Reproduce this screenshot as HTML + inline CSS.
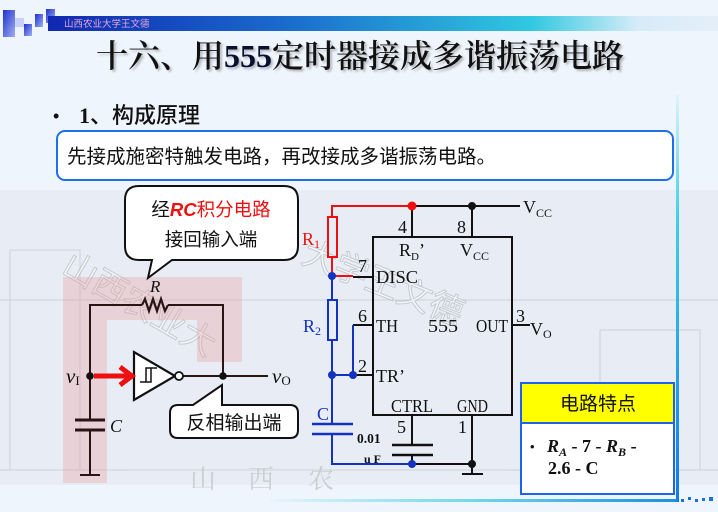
<!DOCTYPE html>
<html>
<head>
<meta charset="utf-8">
<style>
  html,body{margin:0;padding:0;}
  body{width:718px;height:512px;overflow:hidden;background:#eff5fc;}
  svg{display:block;}
</style>
</head>
<body>
<svg width="718" height="512" viewBox="0 0 718 512" xmlns="http://www.w3.org/2000/svg">
  <defs>
    <linearGradient id="hbar" x1="0" y1="0" x2="1" y2="0">
      <stop offset="0" stop-color="#1028b0"/>
      <stop offset="0.35" stop-color="#1a6acc"/>
      <stop offset="0.72" stop-color="#30c8e0"/>
      <stop offset="0.88" stop-color="#d6ecf8"/>
      <stop offset="1" stop-color="#e4eef9"/>
    </linearGradient>
    <linearGradient id="sq" x1="0" y1="0" x2="1" y2="1">
      <stop offset="0" stop-color="#2030d0"/>
      <stop offset="1" stop-color="#9fb0f0"/>
    </linearGradient>
    <linearGradient id="vline" x1="0" y1="0" x2="0" y2="1">
      <stop offset="0" stop-color="#e0f2fa"/>
      <stop offset="0.3" stop-color="#40d0e4"/>
      <stop offset="1" stop-color="#1478e4"/>
    </linearGradient>
    <linearGradient id="hline" x1="0" y1="0" x2="1" y2="0">
      <stop offset="0" stop-color="#e8f4fb"/>
      <stop offset="0.5" stop-color="#70d8ea"/>
      <stop offset="1" stop-color="#1a90e0"/>
    </linearGradient>
  </defs>

  <!-- faint background watermark area -->
  <rect x="0" y="190" width="718" height="295" fill="#8a8f96" opacity="0.07"/>
  <g fill="none" stroke="#9aa0a8" stroke-width="1" opacity="0.35">
    <rect x="10" y="250" width="70" height="220"/>
    <rect x="600" y="330" width="100" height="140"/>
    <path d="M0,300 H718 M0,470 H718"/>
  </g>
  <g font-family="'Noto Sans CJK SC', sans-serif" font-size="34" fill="#ffffff" stroke="#a8adb4" stroke-width="1" opacity="0.55">
    <text x="300" y="262" transform="rotate(22 300 262)">大学王文德</text>
    <text x="60" y="272" transform="rotate(30 60 272)">山西农业大</text>
  </g>
  <g font-family="'Noto Serif CJK SC', serif" font-size="26" fill="#c4c8cc" opacity="0.8">
    <text x="190" y="488">山</text>
    <text x="248" y="488">西</text>
    <text x="308" y="488">农</text>
  </g>

  <!-- pink highlight frame -->
  <path d="M63,277 H242 V362 H197 V320 H107 V483 H63 Z" fill="#e89898" opacity="0.32"/>

  <!-- header logo squares -->
  <rect x="3" y="10" width="12" height="27" fill="url(#sq)"/>
  <rect x="15" y="18" width="9" height="9" fill="#c8d2f6"/>
  <rect x="24" y="24" width="8" height="12" fill="url(#sq)"/>
  <rect x="35" y="14" width="8" height="13" fill="url(#sq)"/>
  <rect x="46" y="9" width="9" height="14" fill="url(#sq)"/>
  <!-- header bar -->
  <rect x="48" y="16" width="670" height="15" fill="url(#hbar)"/>
  <text x="64" y="27" font-family="'Noto Sans CJK SC', sans-serif" font-size="9.5" fill="#e6a6d8">山西农业大学王文德</text>

  <!-- title -->
  <g font-size="32" style="text-shadow:2px 2px 2px rgba(0,0,0,0.25)">
    <text x="96" y="67" fill="#111"><tspan font-family="'Noto Serif CJK SC', serif" font-weight="600">十六、用</tspan><tspan font-family="'Liberation Serif', serif" font-weight="bold" fill="#0a1030">555</tspan><tspan font-family="'Noto Serif CJK SC', serif" font-weight="600">定时器接成多谐振荡电路</tspan></text>
  </g>

  <!-- bullet heading -->
  <text x="53" y="122" font-family="'Liberation Sans', sans-serif" font-size="18" fill="#111">•</text>
  <text x="79" y="123" font-size="22" fill="#111"><tspan font-family="'Liberation Serif', serif" font-weight="bold">1</tspan><tspan font-family="'Noto Sans CJK SC', sans-serif" font-weight="500">、构成原理</tspan></text>

  <!-- text box -->
  <rect x="57" y="131" width="616" height="49" rx="8" ry="8" fill="#ffffff" stroke="#1e6ef0" stroke-width="2"/>
  <text x="67" y="163" font-family="'Noto Sans CJK SC', sans-serif" font-size="19.5" fill="#111">先接成施密特触发电路，再改接成多谐振荡电路。</text>

  <!-- right vertical accent line & bottom line -->
  <rect x="676" y="95" width="3" height="407" fill="url(#vline)"/>
  <rect x="270" y="499" width="407" height="3" fill="url(#hline)"/>
  <g fill="#1a70e0">
    <rect x="681" y="499" width="3" height="3"/><rect x="688" y="497" width="3" height="3"/>
    <rect x="695" y="499" width="3" height="3"/><rect x="702" y="498" width="3" height="3"/>
    <rect x="709" y="497" width="4" height="4"/>
  </g>

  <!-- ================= LEFT CIRCUIT ================= -->
  <g stroke="#2a1414" stroke-width="2" fill="none">
    <!-- feedback loop -->
    <path d="M90,420 V305 H142 M168,305 H223 V376"/>
    <path d="M142,305 L145,299 L149,311 L153,299 L157,311 L161,299 L165,311 L168,305" stroke-width="2.2"/>
    <!-- output line -->
    <path d="M183,376 H268"/>
    <!-- capacitor -->
    <path d="M75,420 H105 M75,430 H105" stroke-width="3"/>
    <path d="M90,430 V475 M80,475 H100"/>
  </g>
  <!-- Schmitt inverter -->
  <polygon points="134,352 134,400 175,376" fill="#ffffff" stroke="#111" stroke-width="2.2"/>
  <circle cx="179" cy="376" r="4" fill="#ffffff" stroke="#111" stroke-width="1.8"/>
  <path d="M140,382 H151 V368 M146,382 V368 H157" fill="none" stroke="#111" stroke-width="1.5"/>
  <!-- red arrow -->
  <path d="M94,376 H128" stroke="#ee1010" stroke-width="5" fill="none"/>
  <path d="M120,367 L132,376 L120,385" stroke="#ee1010" stroke-width="5" fill="none" stroke-linejoin="miter"/>
  <!-- dots -->
  <circle cx="90" cy="376" r="3.8" fill="#111"/>
  <circle cx="223" cy="376" r="3.8" fill="#111"/>
  <!-- labels -->
  <text x="150" y="292" font-family="'Liberation Serif', serif" font-style="italic" font-size="17" fill="#111">R</text>
  <text x="66" y="383" font-family="'Liberation Serif', serif" font-style="italic" font-size="21" fill="#111">v<tspan font-style="normal" font-size="13" dy="2">I</tspan></text>
  <text x="272" y="383" font-family="'Liberation Serif', serif" font-style="italic" font-size="21" fill="#111">v<tspan font-style="normal" font-size="13" dy="2">O</tspan></text>
  <text x="110" y="432" font-family="'Liberation Serif', serif" font-style="italic" font-size="18" fill="#111">C</text>

  <!-- callout 1 -->
  <path d="M139,186 H284 Q298,186 298,200 V246 Q298,260 284,260 H172 L148,278 L152,260 H139 Q125,260 125,246 V200 Q125,186 139,186 Z" fill="#ffffff" stroke="#111" stroke-width="2"/>
  <text x="211" y="216" text-anchor="middle" font-size="18.5" fill="#111"><tspan font-family="'Noto Sans CJK SC', sans-serif">经</tspan><tspan font-family="'Liberation Sans', sans-serif" font-weight="bold" font-style="italic" fill="#ee1010">RC</tspan><tspan font-family="'Noto Sans CJK SC', sans-serif" fill="#ee1010">积分电路</tspan></text>
  <text x="211" y="246" text-anchor="middle" font-family="'Noto Sans CJK SC', sans-serif" font-size="18.5" fill="#111">接回输入端</text>

  <!-- callout 2 -->
  <path d="M178,405 H193 L222,385 V405 H290 Q298,405 298,413 V430 Q298,438 290,438 H178 Q170,438 170,430 V413 Q170,405 178,405 Z" fill="#ffffff" stroke="#111" stroke-width="2"/>
  <text x="234" y="429" text-anchor="middle" font-family="'Noto Sans CJK SC', sans-serif" font-size="19" fill="#111">反相输出端</text>

  <!-- ================= RIGHT CIRCUIT ================= -->
  <!-- 555 box -->
  <rect x="373" y="237" width="139" height="178" fill="none" stroke="#111" stroke-width="2"/>
  <!-- red wires -->
  <g stroke="#ee1010" stroke-width="2" fill="none">
    <path d="M332,217 V206 H412"/>
    <path d="M332,257 V276 H353"/>
    <rect x="328" y="217" width="9" height="40" stroke-width="2"/>
  </g>
  <!-- black wires -->
  <g stroke="#111" stroke-width="2" fill="none">
    <path d="M412,206 H520"/>
    <path d="M412,206 V237 M472,206 V237"/>
    <path d="M353,277 H373"/>
    <path d="M353,325 H373"/>
    <path d="M353,375 H373"/>
    <path d="M512,325 H530"/>
    <path d="M412,415 V445 M412,455 V464 M472,415 V474 M462,474 H483"/>
    <path d="M412,464 H472"/>
    <path d="M392,445 H433 M392,455 H433" stroke-width="2.5"/>
  </g>
  <!-- blue wires -->
  <g stroke="#1432c0" stroke-width="2" fill="none">
    <path d="M332,276 V300 M332,340 V424 M332,434 V464 H412"/>
    <rect x="328" y="300" width="9" height="40"/>
    <path d="M332,375 H353 V325"/>
    <path d="M312,424 H353 M312,434 H353" stroke-width="2.5"/>
  </g>
  <!-- dots -->
  <circle cx="412" cy="206" r="4.5" fill="#ee1010"/>
  <circle cx="472" cy="206" r="4" fill="#111"/>
  <circle cx="332" cy="276" r="4" fill="#1432c0"/>
  <circle cx="332" cy="375" r="4" fill="#1432c0"/>
  <circle cx="353" cy="375" r="4" fill="#1432c0"/>
  <circle cx="412" cy="464" r="4" fill="#1432c0"/>
  <circle cx="472" cy="464" r="4" fill="#111"/>

  <!-- right circuit labels -->
  <g font-family="'Liberation Serif', serif" font-size="18" fill="#111">
    <text x="523" y="213">V<tspan font-size="12" dy="4">CC</tspan></text>
    <text x="398" y="233">4</text>
    <text x="457" y="233">8</text>
    <text x="399" y="256">R<tspan font-size="11" dy="4">D</tspan><tspan dy="-4">’</tspan></text>
    <text x="460" y="256">V<tspan font-size="12" dy="4">CC</tspan></text>
    <text x="358" y="272">7</text>
    <text x="376" y="283" textLength="42" lengthAdjust="spacingAndGlyphs">DISC</text>
    <text x="358" y="322">6</text>
    <text x="376" y="332" textLength="22" lengthAdjust="spacingAndGlyphs">TH</text>
    <text x="428" y="332" textLength="30" lengthAdjust="spacingAndGlyphs">555</text>
    <text x="476" y="332" textLength="32" lengthAdjust="spacingAndGlyphs">OUT</text>
    <text x="516" y="322">3</text>
    <text x="530" y="335">V<tspan font-size="12" dy="3">O</tspan></text>
    <text x="358" y="372">2</text>
    <text x="376" y="382">TR’</text>
    <text x="391" y="412" textLength="42" lengthAdjust="spacingAndGlyphs">CTRL</text>
    <text x="457" y="412" textLength="31" lengthAdjust="spacingAndGlyphs">GND</text>
    <text x="397" y="433">5</text>
    <text x="458" y="433">1</text>
  </g>
  <text x="302" y="245" font-family="'Liberation Serif', serif" font-size="18" fill="#ee1010">R<tspan font-size="12" dy="3">1</tspan></text>
  <text x="303" y="332" font-family="'Liberation Serif', serif" font-size="18" fill="#1432c0">R<tspan font-size="12" dy="3">2</tspan></text>
  <text x="317" y="420" font-family="'Liberation Serif', serif" font-size="18" fill="#1432c0">C</text>
  <text x="357" y="443" font-family="'Liberation Serif', serif" font-weight="bold" font-size="13.5" fill="#111">0.01</text>
  <text x="364" y="463" font-family="'Liberation Serif', serif" font-weight="bold" font-size="12" fill="#111">u F</text>

  <!-- feature box -->
  <rect x="521" y="383" width="153" height="111" fill="#ffffff" stroke="#1e62f0" stroke-width="2"/>
  <rect x="522" y="384" width="151" height="39" fill="#ffff00"/>
  <line x1="521" y1="423" x2="674" y2="423" stroke="#1e62f0" stroke-width="2"/>
  <text x="598" y="410" text-anchor="middle" font-family="'Noto Sans CJK SC', sans-serif" font-size="19" fill="#111">电路特点</text>
  <text x="530" y="451" font-family="'Liberation Sans', sans-serif" font-size="13" fill="#111">•</text>
  <text x="547" y="452" font-family="'Liberation Serif', serif" font-weight="bold" font-size="18" fill="#111"><tspan font-style="italic">R</tspan><tspan font-style="italic" font-size="12" dy="4">A</tspan><tspan dy="-4"> - 7 - </tspan><tspan font-style="italic">R</tspan><tspan font-style="italic" font-size="12" dy="4">B</tspan><tspan dy="-4"> -</tspan></text>
  <text x="548" y="474" font-family="'Liberation Serif', serif" font-weight="bold" font-size="18" fill="#111">2.6 - C</text>
</svg>
</body>
</html>
